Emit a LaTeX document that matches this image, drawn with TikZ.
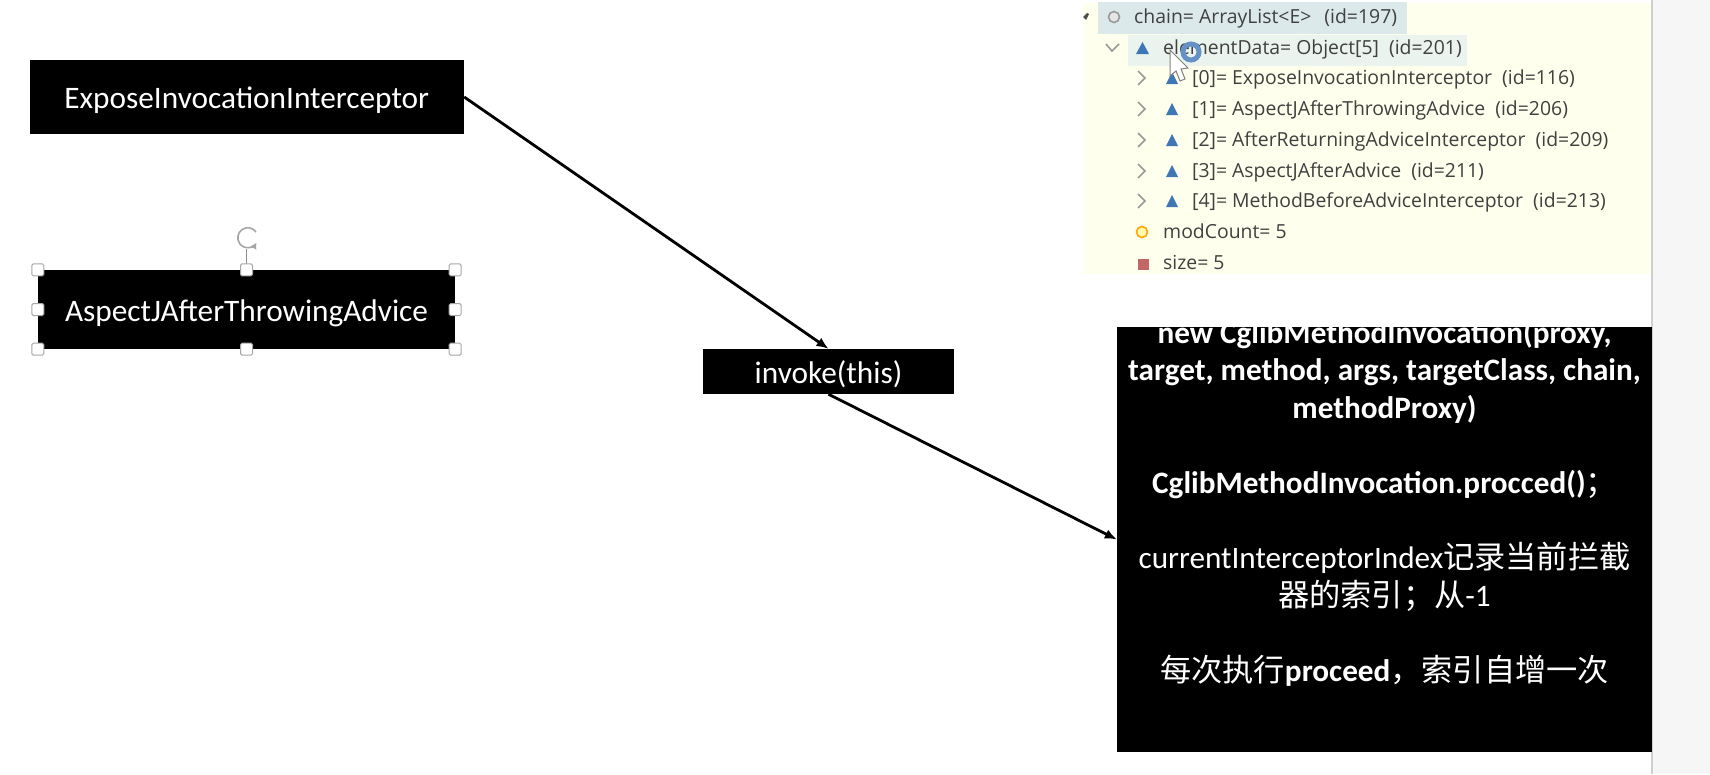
\documentclass[tikz,border=0pt]{standalone}
\usepackage{fontspec}
\usepackage{tikz}
\usetikzlibrary{shapes,arrows.meta,positioning,fit}
\setmainfont{Carlito}
\newfontfamily\rowfont{Open Sans}
\newfontfamily\cjk{Noto Sans CJK SC}
\newcommand{\zh}[1]{{\cjk #1}}
\definecolor{panelbg}{HTML}{FFFFEE}
\definecolor{sidebg}{HTML}{F5F6F5}
\definecolor{sideline}{HTML}{CFCFCF}
\definecolor{rowhigh}{HTML}{DCE9EA}
\definecolor{rowlight}{HTML}{EAF3EE}
\definecolor{rowtext}{HTML}{404040}
\definecolor{iconblue}{HTML}{3F76B5}
\tikzset{
  blackbox/.style={fill=black, text=white, inner sep=0pt, text height=29pt, text depth=6pt, font=\fontsize{31.3}{36}\selectfont},
  handle/.style={draw=black!35, fill=white, rounded corners=1.5pt, line width=1pt, minimum size=12pt, inner sep=0pt},
  rowlabel/.style={anchor=west, inner sep=0pt, yshift=-1.5pt, text=rowtext, font=\rowfont\fontsize{19.4}{22}\selectfont},
  flow/.style={-{Latex[length=12pt,width=10pt]}, line width=2.8pt},
  chevron/.style={draw=black!40, line width=1.6pt, fill=none}
}
\begin{document}
\begin{tikzpicture}[x=1pt,y=-1pt]
    \useasboundingbox (0,0) rectangle (1710,774);
    \fill[white] (0,0) rectangle (1710,774);
    \fill[sidebg] (1652,0) rectangle (1710,774);
    \draw[sideline, line width=1.5pt] (1652,0) -- (1652,774);
    %
    % debugger panel
    \fill[panelbg] (1083,3) rectangle (1651,274);
    \fill[rowhigh] (1098,2) rectangle (1407,34);
    \fill[rowlight] (1128,35) rectangle (1467,66);
    \node[rowlabel] (chain) at (1134,17) {chain= ArrayList<E>\hspace{13pt}(id=197)};
    \node[rowlabel] (data) at (1163,48) {elementData= Object[5]\ \ (id=201)};
    \foreach \i/\y/\t in {0/78/{ExposeInvocationInterceptor\ \ (id=116)},
                          1/109/{AspectJAfterThrowingAdvice\ \ (id=206)},
                          2/140/{AfterReturningAdviceInterceptor\ \ (id=209)},
                          3/171/{AspectJAfterAdvice\ \ (id=211)},
                          4/201/{MethodBeforeAdviceInterceptor\ \ (id=213)}} {
      \node[rowlabel] (item\i) at (1192,\y) {[\i]= \t};
      \draw[chevron] (1138,\y-7) -- (1145,\y) -- (1138,\y+7);
      \fill[iconblue] (1166,\y+6) -- (1172,\y-6) -- (1178,\y+6) -- cycle;
    }
    \node[rowlabel] (modcount) at (1163,230) {modCount= 5};
    \node[rowlabel] (size) at (1163,261) {size= 5};
    %
    \draw[black!40, line width=1.6pt, fill=black!10] (1114,17) circle [radius=5.5];
    \fill[black!70] (1083,17) -- (1087,13) -- (1089,14) -- (1086,20) -- cycle;
    \draw[chevron] (1106,44) -- (1112,51) -- (1119,44);
    \fill[iconblue] (1136,54) -- (1142.5,42) -- (1149,54) -- cycle;
    \draw[draw=orange!70!yellow, fill=yellow!30, line width=1.6pt] (1142,232) circle [radius=5.5];
    \fill[red!60!black!60!white] (1138,259) rectangle (1149,270);
    %
    % mouse pointer
    \draw[iconblue!80!white, line width=5pt] (1191,52) circle [radius=8];
    \draw[black!50, fill=white, line width=1pt] (1170,50) -- (1170,76) -- (1176,71) -- (1180,81) -- (1185,79) -- (1181,69) -- (1188,68) -- cycle;
    %
    % boxes
    \node[blackbox, minimum width=434.5pt, minimum height=74pt] (expose) at (246.75,97) {ExposeInvocationInterceptor};
    \node[blackbox, minimum width=417pt, minimum height=79pt] (throwing) at (246.5,309.5) {AspectJAfterThrowingAdvice};
    \node[blackbox, minimum width=251pt, minimum height=45pt] (invoke) at (828.5,371.5) {invoke(this)};
    \node[fill=black, inner sep=0pt, minimum width=535pt, minimum height=425pt] (proxy) at (1384.5,539.5) {};
    %
    \begin{scope}
      \clip (proxy.north west) rectangle (proxy.south east);
      \node[anchor=north, align=center, inner sep=0pt, text=white, font=\fontsize{31.2}{37.6}\selectfont] (prooftext) at (1384.5,320) {%
        \textbf{new CglibMethodInvocation(proxy,}\\
        \textbf{target, method, args, targetClass, chain,}\\
        \textbf{methodProxy)}\\[37.6pt]
        \textbf{CglibMethodInvocation.procced()}\zh{；}\\[37.6pt]
        currentInterceptorIndex\zh{记录当前拦截}\\
        \zh{器的索引；从}-1\\[37.6pt]
        \zh{每次执行}\textbf{proceed}\zh{，索引自增一次}};
    \end{scope}
    %
    % selection handles
    \draw[black!45, line width=1pt] (throwing.north) -- ++(0,-21);
    \draw[black!35, line width=1.6pt, -{Latex[length=6pt,width=7pt]}] (256,232) arc [start angle=-35, end angle=-330, radius=10];
    \foreach \p in {north west,north,north east,west,east,south west,south,south east} {
      \node[handle] (handle \p) at (throwing.\p) {};
    }
    %
    \draw[flow] (expose.east) -- (invoke.north);
    \draw[flow] (invoke.south) -- (proxy.west);
\end{tikzpicture}
\end{document}
